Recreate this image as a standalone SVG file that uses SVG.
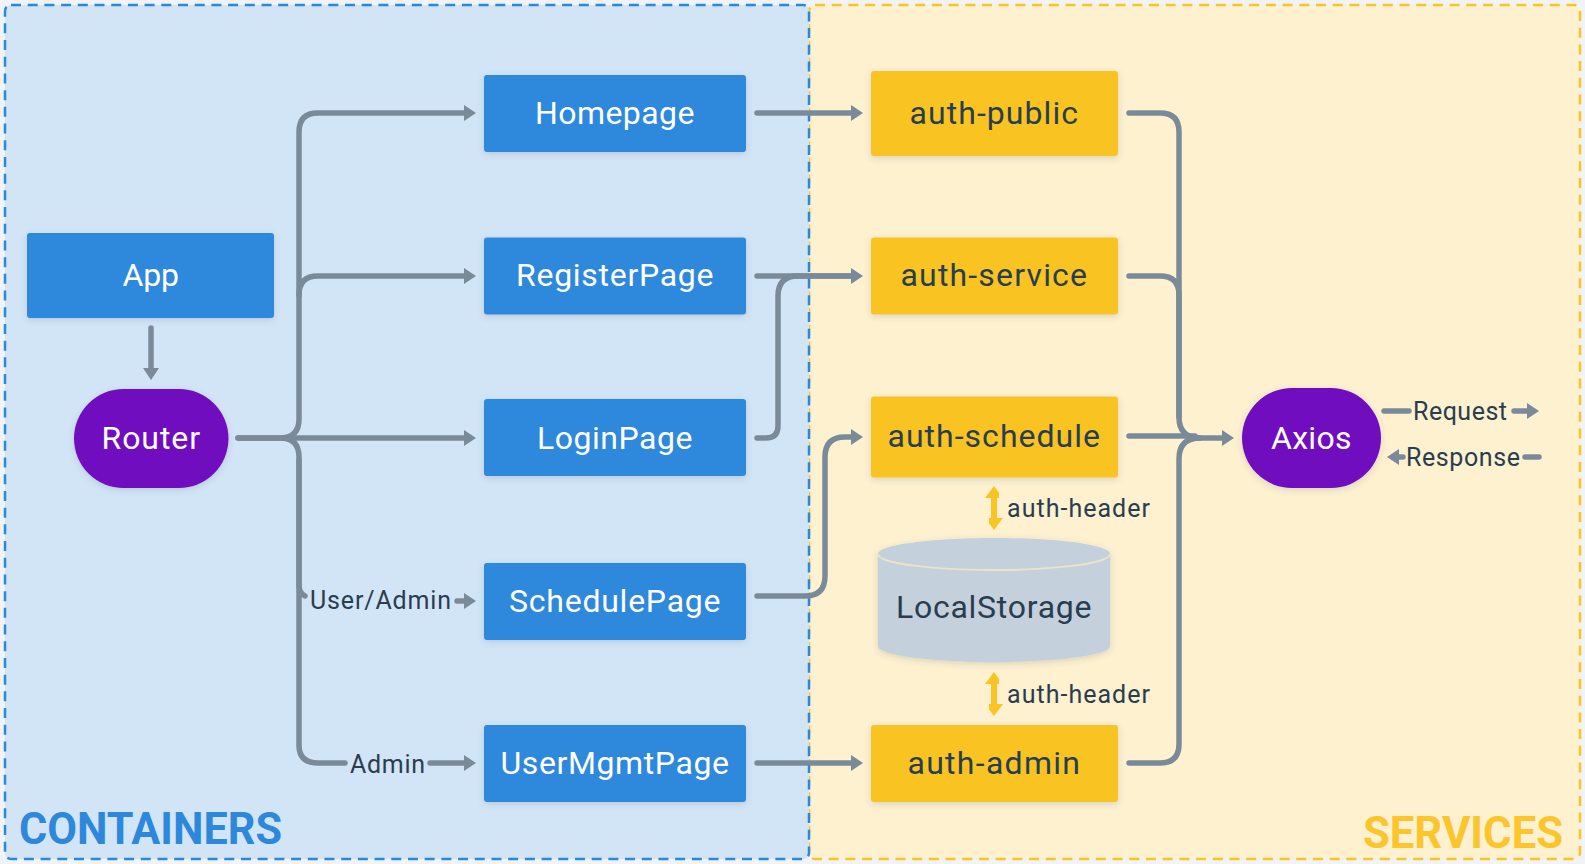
<svg xmlns="http://www.w3.org/2000/svg" width="1585" height="864" viewBox="0 0 1585 864">
<style>
text{font-family:Roboto,"Liberation Sans",sans-serif}
.n{font-size:32px;fill:#fff;text-anchor:middle;letter-spacing:.5px}
.d{fill:#2a3d4f}
.l{font-size:25px;fill:#2a3d4f}
.blue{fill:#2d88db}.yel{fill:#f9c424}.pur{fill:#7010bf}
.c{fill:none;stroke:#7b8a99;stroke-width:5.500;stroke-linecap:round;stroke-linejoin:round}
.y{fill:none;stroke:#f9c424;stroke-width:6}
.t{font-size:45px;font-weight:700}
</style>
<defs>
<filter id="sh" x="-10%" y="-15%" width="120%" height="135%"><feDropShadow dx="0" dy="2" stdDeviation="3" flood-color="#3a4a5a" flood-opacity=".18"/></filter>
<marker id="a" markerUnits="userSpaceOnUse" markerWidth="14" markerHeight="20" refX="1" refY="9" orient="auto"><path d="M1,1 L13,9 L1,17 z" fill="#7b8a99"/></marker>
<marker id="ay" markerUnits="userSpaceOnUse" markerWidth="20" markerHeight="14" refX="1" refY="9" orient="auto-start-reverse"><path d="M1,0 L13,9 L1,18 z" fill="#f9c424"/></marker>
</defs>
<rect width="1585" height="864" fill="#f0f4f8"/>
<g id="services-panel"><rect x="809" y="5" width="771" height="854" rx="6" fill="#fdf1d0" stroke="#f9c424" stroke-width="2.500" stroke-dasharray="10 6.700"/>
<text class="t" x="1363" y="848" fill="#fbc52b" textLength="200" lengthAdjust="spacingAndGlyphs">SERVICES</text></g>
<g id="containers-panel"><rect x="5" y="5" width="804" height="854" rx="6" fill="#d2e5f7" stroke="#2d88db" stroke-width="2.500" stroke-dasharray="10 6.700"/>
<text class="t" x="19" y="844" fill="#2d88db" textLength="263" lengthAdjust="spacingAndGlyphs">CONTAINERS</text></g>
<g id="connectors">
<path class="c" d="M151,328 V368" marker-end="url(#a)"/>
<path class="c" d="M238,438 H280 Q299,438 299,419 V132 Q299,113 318,113 H464" marker-end="url(#a)"/>
<path class="c" d="M299,295 Q299,276 318,276 H464" marker-end="url(#a)"/>
<path class="c" d="M238,438 H464" marker-end="url(#a)"/>
<path class="c" d="M280,438 Q299,438 299,457 V585 Q299,593 305,596"/>
<path class="c" d="M457,601 H464" marker-end="url(#a)"/>
<path class="c" d="M299,460 V745 Q299,763 318,763 H345"/>
<path class="c" d="M430,763 H464" marker-end="url(#a)"/>
<path class="c" d="M757,113 H851" marker-end="url(#a)"/>
<path class="c" d="M757,276 H851" marker-end="url(#a)"/>
<path class="c" d="M757,438 H766 Q778,438 778,426 V296 Q778,276 798,276 H851"/>
<path class="c" d="M757,596 H805 Q825,596 825,576 V457 Q825,437 845,437 H851" marker-end="url(#a)"/>
<path class="c" d="M757,763 H851" marker-end="url(#a)"/>
<path class="c" d="M1129,113 H1160 Q1179,113 1179,132 V417 Q1179,438 1200,438 H1222" marker-end="url(#a)"/>
<path class="c" d="M1129,276 H1160 Q1179,276 1179,295 V417"/>
<path class="c" d="M1129,436 H1195"/>
<path class="c" d="M1129,763 H1160 Q1179,763 1179,744 V459 Q1179,438 1200,438"/>
<path class="c" d="M1384,411 H1409"/>
<path class="c" d="M1514,411 H1527" marker-end="url(#a)"/>
<path class="c" d="M1525,457 H1539"/>
<path class="c" d="M1403,457 H1399" marker-end="url(#a)"/>
<path class="y" d="M994,498 V518" marker-start="url(#ay)" marker-end="url(#ay)"/>
<path class="y" d="M994,684 V704" marker-start="url(#ay)" marker-end="url(#ay)"/>
<text class="l" x="310" y="609" textLength="141">User/Admin</text>
<text class="l" x="350" y="773" textLength="75">Admin</text>
<text class="l" x="1007" y="517" textLength="143">auth-header</text>
<text class="l" x="1007" y="703" textLength="143">auth-header</text>
<text class="l" x="1413" y="420" textLength="94">Request</text>
<text class="l" x="1406" y="466" textLength="114">Response</text>
</g>
<g id="app"><rect class="blue" x="27" y="233" width="247" height="85" rx="3" filter="url(#sh)"/><text class="n" x="151" y="286" textLength="57">App</text></g>
<g id="router"><rect class="pur" x="74" y="389" width="154.500" height="99" rx="49.500" filter="url(#sh)"/><text class="n" x="151" y="449" textLength="99">Router</text></g>
<g id="homepage"><rect class="blue" x="484" y="75" width="262" height="77" rx="3" filter="url(#sh)"/><text class="n" x="615" y="124" textLength="160">Homepage</text></g>
<g id="registerpage"><rect class="blue" x="484" y="237.500" width="262" height="77" rx="3" filter="url(#sh)"/><text class="n" x="615" y="286" textLength="198">RegisterPage</text></g>
<g id="loginpage"><rect class="blue" x="484" y="399" width="262" height="77" rx="3" filter="url(#sh)"/><text class="n" x="615" y="449" textLength="156">LoginPage</text></g>
<g id="schedulepage"><rect class="blue" x="484" y="563" width="262" height="77" rx="3" filter="url(#sh)"/><text class="n" x="615" y="612" textLength="212">SchedulePage</text></g>
<g id="usermgmtpage"><rect class="blue" x="484" y="725" width="262" height="77" rx="3" filter="url(#sh)"/><text class="n" x="615" y="774" textLength="229">UserMgmtPage</text></g>
<g id="auth-public"><rect class="yel" x="871" y="71" width="247" height="85" rx="3" filter="url(#sh)"/><text class="n d" x="994" y="124" textLength="169">auth-public</text></g>
<g id="auth-service"><rect class="yel" x="871" y="237.500" width="247" height="77" rx="3" filter="url(#sh)"/><text class="n d" x="994" y="286" textLength="187">auth-service</text></g>
<g id="auth-schedule"><rect class="yel" x="871" y="396.500" width="247" height="81" rx="3" filter="url(#sh)"/><text class="n d" x="994" y="447" textLength="213">auth-schedule</text></g>
<g id="auth-admin"><rect class="yel" x="871" y="725" width="247" height="77" rx="3" filter="url(#sh)"/><text class="n d" x="994" y="774" textLength="173">auth-admin</text></g>
<g id="localstorage"><path d="M878,554 C878,545 930,538 994,538 C1058,538 1110,545 1110,554 V646 C1110,655 1058,662 994,662 C930,662 878,655 878,646 Z" fill="#c4d0db" filter="url(#sh)"/><path d="M878,554 C878,563 930,570 994,570 C1058,570 1110,563 1110,554" fill="none" stroke="#eee3c8" stroke-width="2"/><text class="n d" x="994" y="618" textLength="196">LocalStorage</text></g>
<g id="axios"><rect class="pur" x="1242" y="388" width="139" height="100" rx="50" filter="url(#sh)"/><text class="n" x="1311.500" y="449" textLength="81">Axios</text></g>
</svg>
